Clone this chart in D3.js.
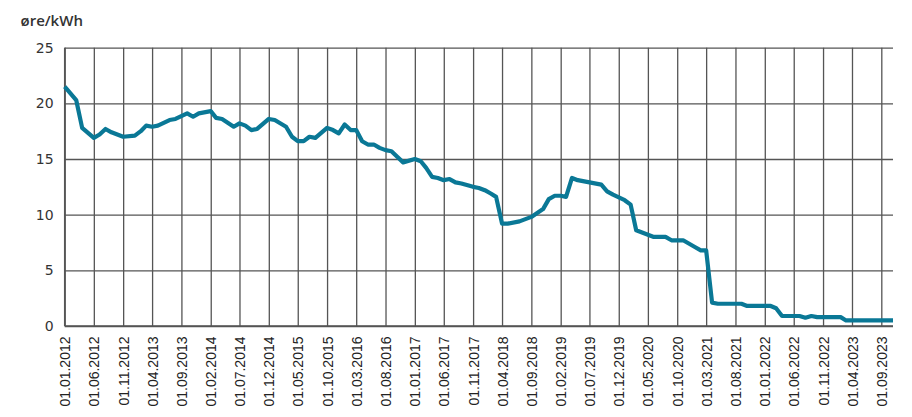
<!DOCTYPE html>
<html>
<head>
<meta charset="utf-8">
<script src="https://cdn.jsdelivr.net/npm/d3@7"></script>
<style>
  html, body { margin: 0; padding: 0; background: #fff; }
  svg { display: block; }
</style>
</head>
<body>
<svg id="chart" width="912" height="417"></svg>
<script>
// ---- data ----
const unitLabel = "øre/kWh";
const yTicks = [0, 5, 10, 15, 20, 25];
const tickLabels = [
  "01.01.2012","01.06.2012","01.11.2012","01.04.2013","01.09.2013","01.02.2014",
  "01.07.2014","01.12.2014","01.05.2015","01.10.2015","01.03.2016","01.08.2016",
  "01.01.2017","01.06.2017","01.11.2017","01.04.2018","01.09.2018","01.02.2019",
  "01.07.2019","01.12.2019","01.05.2020","01.10.2020","01.03.2021","01.08.2021",
  "01.01.2022","01.06.2022","01.11.2022","01.04.2023","01.09.2023"
];
const dates = [
  "2012-01","2012-03","2012-04","2012-06","2012-07","2012-08","2012-09","2012-11",
  "2013-01","2013-02","2013-03","2013-04","2013-05","2013-07","2013-08","2013-10",
  "2013-11","2013-12","2014-02","2014-03","2014-04","2014-06","2014-07","2014-08",
  "2014-09","2014-10","2014-12","2015-01","2015-03","2015-04","2015-05","2015-06",
  "2015-07","2015-08","2015-10","2015-11","2015-12","2016-01","2016-02","2016-03",
  "2016-04","2016-05","2016-06","2016-07","2016-08","2016-09","2016-10","2016-11",
  "2017-01","2017-02","2017-03","2017-04","2017-05","2017-06","2017-07","2017-08",
  "2017-09","2017-11","2017-12","2018-01","2018-02","2018-03","2018-04","2018-05",
  "2018-07","2018-08","2018-09","2018-11","2018-12","2019-01","2019-02","2019-03",
  "2019-04","2019-05","2019-09","2019-10","2019-11","2020-01","2020-02","2020-03",
  "2020-06","2020-08","2020-09","2020-11","2021-01","2021-02","2021-03","2021-04",
  "2021-05","2021-09","2021-10","2022-02","2022-03","2022-04","2022-07","2022-08",
  "2022-09","2022-10","2023-02","2023-03","2023-11"
];
const values = [
  21.5,20.3,17.8,16.9,17.2,17.7,17.4,17.0,
  17.1,17.5,18.0,17.9,18.0,18.5,18.6,19.1,
  18.8,19.1,19.3,18.7,18.6,17.9,18.2,18.0,
  17.6,17.7,18.6,18.5,17.9,17.0,16.6,16.6,
  17.0,16.9,17.8,17.6,17.3,18.1,17.6,17.6,
  16.6,16.3,16.3,16.0,15.8,15.7,15.2,14.7,
  15.0,14.8,14.2,13.4,13.3,13.1,13.2,12.9,
  12.8,12.5,12.4,12.2,11.9,11.6,9.2,9.2,
  9.4,9.6,9.8,10.5,11.4,11.7,11.7,11.6,
  13.3,13.1,12.7,12.1,11.8,11.3,10.9,8.6,
  8.0,8.0,7.7,7.7,7.1,6.8,6.8,2.1,
  2.0,2.0,1.8,1.8,1.6,0.9,0.9,0.75,
  0.9,0.8,0.8,0.5,0.5
];

// ---- layout ----
const margin = { left: 64.7, right: 893, top: 47.7, bottom: 326 };
const svg = d3.select("#chart");
const parseMonth = d3.timeParse("%Y-%m");
const parseTick = d3.timeParse("%d.%m.%Y");
const data = dates.map((d, i) => ({ date: parseMonth(d), value: values[i] }));
const tickDates = tickLabels.map(parseTick);

const x = d3.scaleTime()
  .domain([new Date(2012, 0, 1), new Date(2023, 10, 1)])
  .range([margin.left, margin.right]);
const y = d3.scaleLinear().domain([0, 25]).range([margin.bottom, margin.top]);

const gridColor = "#555";

// horizontal grid + y labels
const yAxis = svg.append("g")
  .attr("transform", `translate(${margin.left},0)`)
  .call(d3.axisLeft(y).tickValues(yTicks).tickSize(-(margin.right - margin.left)).tickPadding(11));
yAxis.select(".domain").remove();
yAxis.selectAll(".tick line").attr("stroke", gridColor).attr("stroke-width", 1.3);
yAxis.selectAll(".tick text")
  .attr("font-family", "'DejaVu Sans', sans-serif")
  .attr("font-size", 14)
  .attr("fill", "#333");

// vertical grid + x labels
const xAxis = svg.append("g")
  .attr("transform", `translate(0,${margin.bottom})`)
  .call(d3.axisBottom(x).tickValues(tickDates)
    .tickFormat((d, i) => tickLabels[i])
    .tickSize(-(margin.bottom - margin.top)));
xAxis.select(".domain").remove();
xAxis.selectAll(".tick line").attr("stroke", gridColor).attr("stroke-width", 1.3);
xAxis.selectAll(".tick text")
  .attr("font-family", "'Liberation Sans', Arial, sans-serif")
  .attr("font-size", 14)
  .attr("fill", "#222")
  .attr("text-anchor", "end")
  .attr("transform", "rotate(-90)")
  .attr("x", -10.5)
  .attr("y", 0)
  .attr("dy", "0.36em");

// axis lines (left & bottom)
svg.append("line")
  .attr("x1", margin.left).attr("x2", margin.left)
  .attr("y1", margin.top).attr("y2", margin.bottom)
  .attr("stroke", gridColor).attr("stroke-width", 1.5);
svg.append("line")
  .attr("x1", margin.left).attr("x2", margin.right)
  .attr("y1", margin.bottom).attr("y2", margin.bottom)
  .attr("stroke", gridColor).attr("stroke-width", 1.5);

// data line
const line = d3.line().x(d => x(d.date)).y(d => y(d.value));
svg.append("path")
  .datum(data)
  .attr("d", line)
  .attr("fill", "none")
  .attr("stroke", "#0a7896")
  .attr("stroke-width", 4.2)
  .attr("stroke-linejoin", "round")
  .attr("stroke-linecap", "butt");

// unit label
svg.append("text")
  .attr("x", 20.5).attr("y", 26)
  .attr("font-family", "'Open Sans', sans-serif")
  .attr("font-weight", 600)
  .attr("font-size", 15)
  .attr("fill", "#333")
  .text(unitLabel);
</script>
</body>
</html>
